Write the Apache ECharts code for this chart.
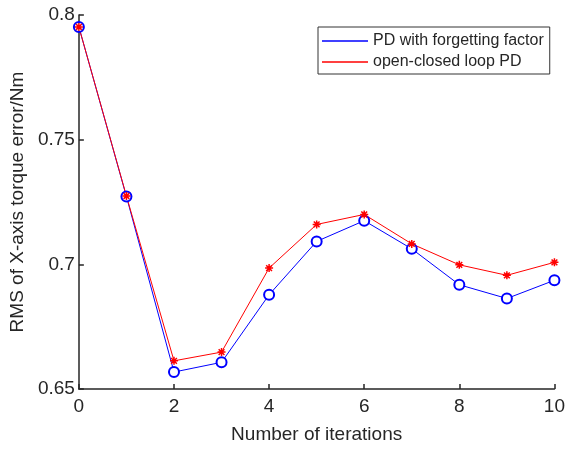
<!DOCTYPE html>
<html>
<head>
<meta charset="utf-8">
<script src="https://cdn.jsdelivr.net/npm/echarts@6/dist/echarts.min.js"></script>
<style>html,body{margin:0;padding:0;background:#fff}#c{width:568px;height:449px}</style>
</head>
<body>
<div id="c"></div>
<script>
var iterations = [0, 1, 2, 3, 4, 5, 6, 7, 8, 9, 10];
var pdForgetting = [0.7952, 0.7272, 0.6568, 0.6607, 0.6878, 0.7092, 0.7175, 0.7062, 0.6918, 0.6863, 0.6936];
var openClosedPD = [0.7952, 0.7274, 0.6613, 0.6648, 0.6985, 0.7160, 0.7200, 0.7082, 0.6998, 0.6956, 0.7008];
var seriesNames = ['PD with forgetting factor', 'open-closed loop PD'];
var xLabel = 'Number of iterations';
var yLabel = 'RMS of X-axis torque error/Nm';

function pairs(xs, ys) { return xs.map(function (x, i) { return [x, ys[i]]; }); }

var txt = '#262626';
var font = 'Liberation Sans, Arial, sans-serif';
var star = 'path://M0,-5L0,5M-5,0L5,0M-3.6,-3.6L3.6,3.6M-3.6,3.6L3.6,-3.6';

var chart = echarts.init(document.getElementById('c'), null, {renderer: 'canvas'});
chart.setOption({
  animation: false,
  backgroundColor: '#fff',
  grid: {left: 77, right: 8, top: 15, bottom: 60, containLabel: false},
  legend: {
    orient: 'vertical', left: 318, top: 27,
    borderColor: '#333', borderWidth: 1, borderRadius: 0,
    padding: [5, 6, 3, 4], itemGap: 3,
    itemWidth: 46, itemHeight: 1.5, icon: 'rect',
    itemStyle: {borderWidth: 0},
    textStyle: {fontFamily: font, fontSize: 16, color: txt, lineHeight: 18},
    data: seriesNames
  },
  xAxis: {
    type: 'value', min: 0, max: 10, interval: 2,
    name: xLabel, nameLocation: 'middle', nameGap: 36,
    nameTextStyle: {fontFamily: font, fontSize: 19, color: txt},
    axisLine: {show: true, lineStyle: {color: txt, width: 1.5}},
    axisTick: {show: true, inside: true, length: 5, lineStyle: {color: txt, width: 1.5}},
    axisLabel: {fontFamily: font, fontSize: 19, color: txt, margin: 8},
    splitLine: {show: false}
  },
  yAxis: {
    type: 'value', min: 0.65, max: 0.8, interval: 0.05,
    name: yLabel, nameLocation: 'middle', nameGap: 50, nameRotate: 90,
    nameTextStyle: {fontFamily: font, fontSize: 19, color: txt},
    axisLine: {show: true, lineStyle: {color: txt, width: 1.5}},
    axisTick: {show: true, inside: true, length: 5, lineStyle: {color: txt, width: 1.5}},
    axisLabel: {fontFamily: font, fontSize: 19, color: txt, margin: 4},
    splitLine: {show: false}
  },
  series: [
    {
      name: seriesNames[0], type: 'line', data: pairs(iterations, pdForgetting),
      symbol: 'emptyCircle', symbolSize: 10,
      lineStyle: {color: '#0000ff', width: 1},
      itemStyle: {color: '#0000ff', borderColor: '#0000ff', borderWidth: 1}
    },
    {
      name: seriesNames[1], type: 'line', data: pairs(iterations, openClosedPD),
      symbol: star, symbolSize: 8,
      lineStyle: {color: '#ff0000', width: 1},
      itemStyle: {color: '#ff0000', borderColor: '#ff0000', borderWidth: 1.5}
    }
  ]
});
</script>
</body>
</html>
